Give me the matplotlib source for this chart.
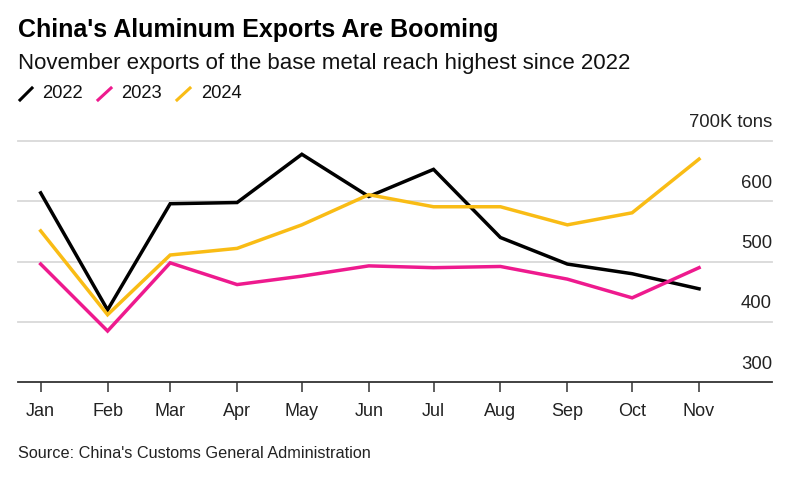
import matplotlib
matplotlib.use("Agg")
import matplotlib.pyplot as plt
import matplotlib.dates as mdates
from matplotlib.lines import Line2D
import datetime as dt

months = ["Jan", "Feb", "Mar", "Apr", "May", "Jun", "Jul", "Aug", "Sep", "Oct", "Nov"]
exports_2022 = [614, 420, 596, 598, 678, 608, 653, 540, 496, 480, 455]
exports_2023 = [496, 385, 498, 462, 476, 493, 490, 492, 471, 440, 490]
exports_2024 = [551, 412, 511, 522, 561, 611, 591, 591, 561, 581, 670]
y_ticks = [300, 400, 500, 600, 700]
y_tick_labels = ["300", "400", "500", "600", "700K tons"]

series = [("2022", exports_2022, "#000000"),
          ("2023", exports_2023, "#ee1a8e"),
          ("2024", exports_2024, "#f9bc15")]

plt.rcParams['font.family'] = ['Liberation Sans', 'DejaVu Sans']

fig = plt.figure(figsize=(7.94, 4.83), dpi=100)
ax = fig.add_axes([18/794, 1 - 382.3/483, (772-18)/794, (382.3-141)/483])

dates = [dt.date(2024, i + 1, 1) for i in range(len(months))]
xnum = mdates.date2num(dates)

for yv in y_ticks[1:]:
    ax.axhline(yv, color="#d9d9d9", lw=1.3, zorder=1, clip_on=False)

for name, vals, col in series:
    ax.plot(xnum, vals, color=col, lw=2.5, solid_joinstyle='miter', zorder=3, clip_on=False)

ax.set_xlim(xnum[0] - 10.5, xnum[-1] + 33.8)
ax.set_ylim(300, 700)
for s in ["left", "right", "top"]:
    ax.spines[s].set_visible(False)
ax.spines["bottom"].set_color("#333333")
ax.spines["bottom"].set_linewidth(1.3)
ax.set_xticks(xnum)
ax.set_xticklabels(months)
ax.tick_params(axis="x", length=7, width=1.1, color="#333333", pad=8,
               labelsize=13, labelcolor="#222222")
ax.set_yticks([])

for yv, lab in zip(y_ticks, y_tick_labels):
    ax.annotate(lab, xy=(1.0, yv), xycoords=("axes fraction", "data"),
                xytext=(0, 13), textcoords="offset points",
                ha="right", va="center", fontsize=13.3, color="#222222")

fig.text(18/794, 1 - 30/483, "China's Aluminum Exports Are Booming",
         fontsize=18.0, fontweight="bold", ha="left", va="center", color="#000000")
fig.text(18/794, 1 - 63/483, "November exports of the base metal reach highest since 2022",
         fontsize=16.0, ha="left", va="center", color="#111111")

leg = [(20, 32, 42, "2022", "#000000"), (98, 111, 121, "2023", "#ee1a8e"),
       (177, 190, 201, "2024", "#f9bc15")]
for (x0, x1, xt, name, col) in leg:
    fig.add_artist(Line2D([x0/794, x1/794], [1 - 100/483, 1 - 88/483],
                          color=col, lw=2.2, transform=fig.transFigure))
    fig.text(xt/794, 1 - 94/483, name, fontsize=13.2, ha="left", va="center", color="#111111")

fig.text(18/794, 1 - 453/483, "Source: China's Customs General Administration",
         fontsize=11.7, ha="left", va="center", color="#222222")

fig.savefig("out.png", dpi=100, facecolor="white")
